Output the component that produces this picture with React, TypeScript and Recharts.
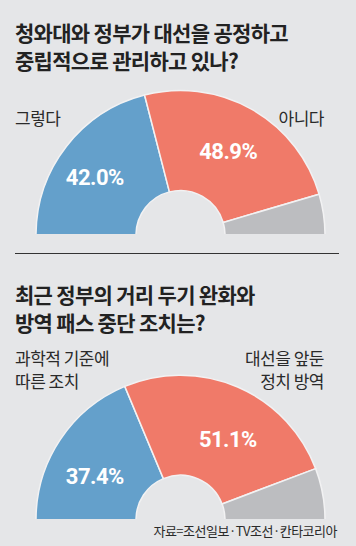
import React from "react";
import { PieChart, Pie, Cell } from "recharts";

const categories1 = ["그렇다", "아니다", "기타"];
const values1 = [42.0, 48.9, 9.1];
const categories2 = ["과학적 기준에 따른 조치", "대선을 앞둔 정치 방역", "기타"];
const values2 = [37.4, 51.1, 11.5];
const colors = ["#64a0cb", "#f07a69", "#bcbdc0"];

const BG = "#e5e6e8";
const KR = "'Noto Sans CJK KR', 'Noto Sans', sans-serif";

// nudges for the white value labels (reference sets them by hand)
const offsets1 = [[-11, 0], [1, -1], [0, 0]];
const offsets2 = [[-7, 9], [10, 7], [0, 0]];

function makeLabel(offsets: number[][]) {
  return (props: any) => {
    const { cx, cy, midAngle, innerRadius, outerRadius, index, value } = props;
    if (index > 1) return null;
    const RAD = Math.PI / 180;
    const r = (innerRadius + outerRadius) / 2;
    const x = cx + r * Math.cos(-midAngle * RAD) + offsets[index][0];
    const y = cy + r * Math.sin(-midAngle * RAD) + offsets[index][1];
    return (
      <text
        x={x}
        y={y}
        fill="#fff"
        textAnchor="middle"
        dominantBaseline="central"
        style={{ fontFamily: "Roboto, sans-serif", fontWeight: 700, fontSize: 22, letterSpacing: -0.5 }}
      >
        {value.toFixed(1)}%
      </text>
    );
  };
}

function HalfDonut({ names, values, offsets, cy }: { names: string[]; values: number[]; offsets: number[][]; cy: number }) {
  const data = names.map((name, i) => ({ name, value: values[i] }));
  return (
    <PieChart width={356} height={cy + 4}>
      <Pie
        data={data}
        dataKey="value"
        cx={175.5}
        cy={cy}
        startAngle={180}
        endAngle={0}
        innerRadius={44.5}
        outerRadius={144.5}
        stroke="#f2f2f3"
        strokeWidth={1.5}
        label={makeLabel(offsets)}
        labelLine={false}
        isAnimationActive={false}
      >
        {data.map((d, i) => (
          <Cell key={d.name} fill={colors[i]} />
        ))}
      </Pie>
    </PieChart>
  );
}

const titleStyle: React.CSSProperties = {
  position: "absolute",
  left: 15,
  fontFamily: KR,
  fontWeight: 700,
  fontSize: 21,
  lineHeight: "23px",
  letterSpacing: -0.7,
  color: "#222",
  whiteSpace: "nowrap",
};

const labelStyle: React.CSSProperties = {
  position: "absolute",
  fontFamily: KR,
  fontSize: 17,
  lineHeight: "19px",
  letterSpacing: -0.5,
  color: "#2a2a2a",
  whiteSpace: "nowrap",
};

export default function App() {
  return (
    <div style={{ position: "absolute", left: 0, top: 0, width: 356, height: 546, background: BG, overflow: "hidden" }}>
      <div style={{ ...titleStyle, top: 21 }}>청와대와 정부가 대선을 공정하고</div>
      <div style={{ ...titleStyle, top: 49 }}>중립적으로 관리하고 있나?</div>
      <div style={{ ...labelStyle, left: 15, top: 107.5 }}>그렇다</div>
      <div style={{ ...labelStyle, right: 32, top: 107.5 }}>아니다</div>
      <div style={{ position: "absolute", left: 0, top: 0 }}>
        <HalfDonut names={categories1} values={values1} offsets={offsets1} cy={230} />
      </div>

      <div style={{ position: "absolute", left: 15, top: 253, width: 324, height: 1, background: "#333" }} />

      <div style={{ ...titleStyle, top: 283 }}>최근 정부의 거리 두기 완화와</div>
      <div style={{ ...titleStyle, top: 311 }}>방역 패스 중단 조치는?</div>
      <div style={{ ...labelStyle, left: 15, top: 347.5 }}>과학적 기준에</div>
      <div style={{ ...labelStyle, left: 15, top: 370.5 }}>따른 조치</div>
      <div style={{ ...labelStyle, right: 32, top: 347.5 }}>대선을 앞둔</div>
      <div style={{ ...labelStyle, right: 32, top: 370.5 }}>정치 방역</div>
      <div style={{ position: "absolute", left: 0, top: 273 }}>
        <HalfDonut names={categories2} values={values2} offsets={offsets2} cy={241.7} />
      </div>

      <div
        style={{
          position: "absolute",
          right: 19,
          top: 522,
          fontFamily: KR,
          fontSize: 13,
          lineHeight: "18px",
          letterSpacing: -0.5,
          color: "#2a2a2a",
          whiteSpace: "nowrap",
        }}
      >
        자료=조선일보·TV조선·칸타코리아
      </div>
    </div>
  );
}
